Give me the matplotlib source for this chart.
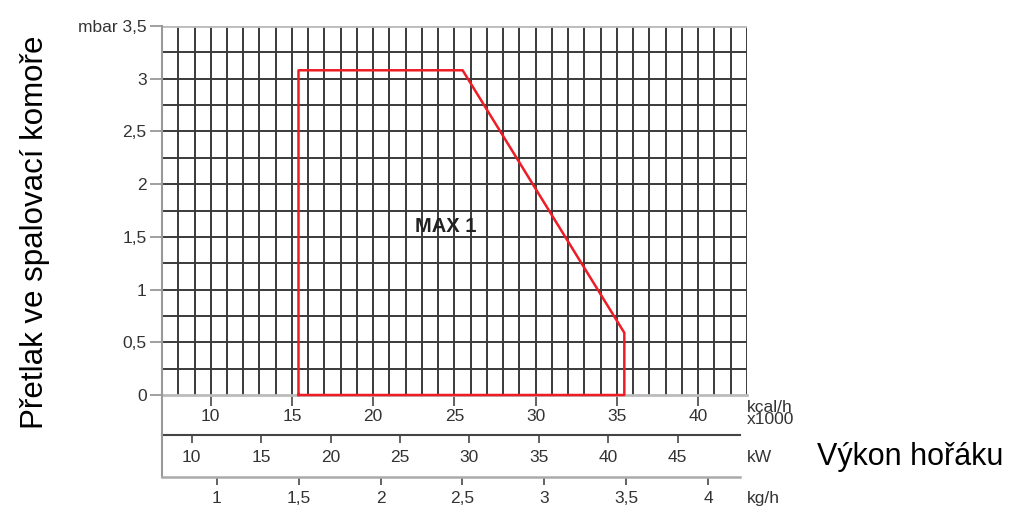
import matplotlib
matplotlib.use('Agg')
import matplotlib.pyplot as plt
import numpy as np

plt.rcParams['font.family'] = ['Liberation Sans', 'DejaVu Sans']

# working field of the burner (kcal/h x1000 vs mbar)
field_kcal = [15.4, 15.4, 25.5, 35.45, 35.45, 15.4]
field_mbar = [0.0, 3.08, 3.08, 0.59, 0.0, 0.0]

y_ticks = [0, 0.5, 1, 1.5, 2, 2.5, 3, 3.5]
y_labels = ['0', '0,5', '1', '1,5', '2', '2,5', '3', 'mbar 3,5']
kcal_ticks = [10, 15, 20, 25, 30, 35, 40]
kw_ticks = [10, 15, 20, 25, 30, 35, 40, 45]
kg_ticks = [1, 1.5, 2, 2.5, 3, 3.5, 4]
kg_labels = ['1', '1,5', '2', '2,5', '3', '3,5', '4']

W, H = 1012, 508
fig = plt.figure(figsize=(W / 100, H / 100), dpi=100)

def box(x0, y0, x1, y1):
    return [x0 / W, 1 - y1 / H, (x1 - x0) / W, (y1 - y0) / H]

txt = '#333333'
fs = 12.5

# main grid
ax = fig.add_axes(box(162, 26, 747, 395))
ax.set_xlim(7, 43)
ax.set_ylim(0, 3.5)
for v in np.arange(8, 44, 1):
    ax.axvline(v, color='#3a3a3a', lw=1.4, zorder=1)
for h in np.arange(0.25, 3.5, 0.25):
    ax.axhline(h, color='#3a3a3a', lw=1.4, zorder=1)
ax.axhline(3.5, color='#bbbbbb', lw=2, zorder=1)
for s in ['top', 'right']:
    ax.spines[s].set_visible(False)
ax.spines['bottom'].set_color('#bbbbbb')
ax.spines['bottom'].set_linewidth(2)
ax.spines['left'].set_color('#999999')
ax.spines['left'].set_linewidth(1.5)
ax.set_yticks(y_ticks)
ax.set_yticklabels(y_labels)
ax.set_xticks(kcal_ticks)
ax.tick_params(axis='y', direction='out', length=9, width=1.3, color='#999999',
               labelsize=fs, labelcolor=txt, pad=2)
ax.tick_params(axis='x', direction='out', length=8, width=1.3, color='#555555',
               labelsize=fs, labelcolor=txt, pad=2)

ax.plot(field_kcal, field_mbar, color='#ee1c25', lw=1.8, zorder=3, clip_on=False)
ax.text(24.45, 1.60, 'MAX 1', fontsize=14.5, fontweight='bold', color='#222222',
        ha='center', va='center', zorder=4)

# kW scale
ax2 = fig.add_axes(box(162, 395, 740, 435))
ax2.set_xlim(10 - (191.7 - 162) / 13.886, 10 + (740 - 191.7) / 13.886)
ax2.set_ylim(0, 1)
ax2.patch.set_visible(False)
for s in ['top', 'right']:
    ax2.spines[s].set_visible(False)
ax2.spines['bottom'].set_color('#444444')
ax2.spines['bottom'].set_linewidth(1.5)
ax2.spines['left'].set_color('#999999')
ax2.spines['left'].set_linewidth(1.5)
ax2.set_yticks([])
ax2.set_xticks(kw_ticks)
ax2.tick_params(axis='x', direction='out', length=6, width=1.3, color='#555555',
                labelsize=fs, labelcolor=txt, pad=5)

# kg/h scale
ax3 = fig.add_axes(box(162, 435, 740, 477))
ax3.set_xlim(1 - (216.7 - 162) / 164.3, 4 + (740 - 708.3) / 164.3)
ax3.set_ylim(0, 1)
ax3.patch.set_visible(False)
for s in ['top', 'right']:
    ax3.spines[s].set_visible(False)
ax3.spines['bottom'].set_color('#aaaaaa')
ax3.spines['bottom'].set_linewidth(1.8)
ax3.spines['left'].set_color('#999999')
ax3.spines['left'].set_linewidth(1.5)
ax3.set_yticks([])
ax3.set_xticks(kg_ticks)
ax3.set_xticklabels(kg_labels)
ax3.tick_params(axis='x', direction='out', length=6, width=1.3, color='#555555',
                labelsize=fs, labelcolor=txt, pad=4)

# unit labels
fig.text(747 / W, 1 - 414 / H, 'kcal/h\nx1000', fontsize=fs, color=txt,
         ha='left', va='center', linespacing=0.75)
fig.text(747 / W, 1 - 457 / H, 'kW', fontsize=fs, color=txt, ha='left', va='center')
fig.text(747 / W, 1 - 498 / H, 'kg/h', fontsize=fs, color=txt, ha='left', va='center')

fig.text(35 / W, 1 - 232 / H, 'Přetlak ve spalovací komoře', fontsize=22.5,
         rotation=90, ha='center', va='center', color='black')
fig.text(817 / W, 1 - 457 / H, 'Výkon hořáku', fontsize=22,
         ha='left', va='center', color='black')

fig.savefig('out.png', dpi=100)
